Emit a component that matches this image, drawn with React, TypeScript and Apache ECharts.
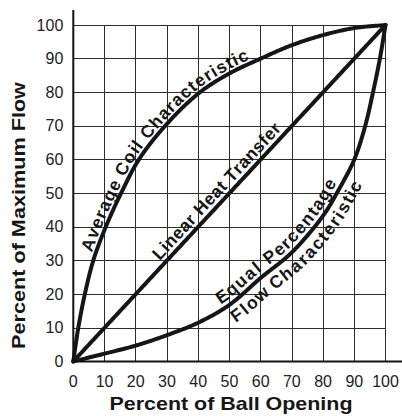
import React, { useEffect, useRef } from "react";
import * as echarts from "echarts";

// ---- data ----
const xTickValues = [0, 10, 20, 30, 40, 50, 60, 70, 80, 90, 100];
const coilX = [0, 1.6, 3.7, 6.4, 10.4, 15.3, 21, 29.4, 40, 50, 60, 70, 80, 90, 100];
const coilY = [0, 10, 20, 30, 40, 50, 60, 70, 79.6, 85.6, 90, 94, 97, 99.1, 100];
const linearX = [0, 100];
const linearY = [0, 100];
const equalX = [0, 10, 20, 30, 40, 50, 60, 70, 80, 85, 90, 93.5, 96, 98.2, 100];
const equalY = [0, 2.3, 4.7, 7.8, 11.5, 16.8, 24.8, 32.4, 43.3, 51, 60, 70, 80, 90, 100];

const xTitle = "Percent of Ball Opening";
const yTitle = "Percent of Maximum Flow";
const coilLabel = "Average Coil Characteristic";
const linearLabel = "Linear Heat Transfer";
const equalLabel = "Equal Percentage";
const flowLabel = "Flow Characteristic";

const pairs = (xs: number[], ys: number[]) => xs.map((x, i) => [x, ys[i]]);

const FONT = "Liberation Sans";
const INK = "#161616";

type P = [number, number];

// centripetal Catmull-Rom through the given pixel points
function densify(pts: P[]): P[] {
  const n = pts.length;
  const out: P[] = [];
  if (n === 2) {
    const N = 200;
    for (let k = 0; k <= N; k++) {
      const t = k / N;
      out.push([pts[0][0] + (pts[1][0] - pts[0][0]) * t, pts[0][1] + (pts[1][1] - pts[0][1]) * t]);
    }
    return out;
  }
  const ext: P[] = [
    [2 * pts[0][0] - pts[1][0], 2 * pts[0][1] - pts[1][1]],
    ...pts,
    [2 * pts[n - 1][0] - pts[n - 2][0], 2 * pts[n - 1][1] - pts[n - 2][1]],
  ];
  const lerp = (a: P, b: P, ta: number, tb: number, t: number): P => {
    const d = tb - ta || 1e-6;
    return [((tb - t) / d) * a[0] + ((t - ta) / d) * b[0], ((tb - t) / d) * a[1] + ((t - ta) / d) * b[1]];
  };
  for (let i = 1; i < ext.length - 2; i++) {
    const p0 = ext[i - 1], p1 = ext[i], p2 = ext[i + 1], p3 = ext[i + 2];
    const t0 = 0;
    const t1 = t0 + Math.pow(Math.hypot(p1[0] - p0[0], p1[1] - p0[1]), 0.5);
    const t2 = t1 + Math.pow(Math.hypot(p2[0] - p1[0], p2[1] - p1[1]), 0.5);
    const t3 = t2 + Math.pow(Math.hypot(p3[0] - p2[0], p3[1] - p2[1]), 0.5);
    const N = 30;
    for (let k = 0; k < N; k++) {
      const t = t1 + ((t2 - t1) * k) / N;
      const A1 = lerp(p0, p1, t0, t1, t);
      const A2 = lerp(p1, p2, t1, t2, t);
      const A3 = lerp(p2, p3, t2, t3, t);
      const B1 = lerp(A1, A2, t0, t2, t);
      const B2 = lerp(A2, A3, t1, t3, t);
      out.push(lerp(B1, B2, t1, t2, t));
    }
  }
  out.push(pts[n - 1]);
  return out;
}

function makePath(pts: P[]) {
  const poly = densify(pts);
  const cum = [0];
  for (let i = 1; i < poly.length; i++) {
    cum.push(cum[i - 1] + Math.hypot(poly[i][0] - poly[i - 1][0], poly[i][1] - poly[i - 1][1]));
  }
  const at = (s: number): P => {
    if (s <= 0) return poly[0];
    if (s >= cum[cum.length - 1]) return poly[poly.length - 1];
    let i = 1;
    while (cum[i] < s) i++;
    const r = (s - cum[i - 1]) / (cum[i] - cum[i - 1] || 1);
    return [poly[i - 1][0] + (poly[i][0] - poly[i - 1][0]) * r, poly[i - 1][1] + (poly[i][1] - poly[i - 1][1]) * r];
  };
  const nearest = (p: number[]) => {
    let best = 0;
    let bd = Infinity;
    for (let i = 0; i < poly.length; i++) {
      const d = Math.hypot(poly[i][0] - p[0], poly[i][1] - p[1]);
      if (d < bd) {
        bd = d;
        best = i;
      }
    }
    return cum[best];
  };
  return { at, nearest };
}

let measureCtx: CanvasRenderingContext2D | null = null;
function charWidth(c: string, size: number) {
  if (!measureCtx) measureCtx = document.createElement("canvas").getContext("2d");
  measureCtx!.font = `bold ${size}px "${FONT}"`;
  return measureCtx!.measureText(c).width;
}

function textAlong(
  path: ReturnType<typeof makePath>,
  text: string,
  startPx: number[],
  offset: number,
  spacing: number,
  size: number
) {
  const chars = Array.from(text);
  const widths = chars.map((c) => charWidth(c, size));
  let s = path.nearest(startPx) - widths[0] / 2;
  const els: any[] = [];
  chars.forEach((c, i) => {
    const w = widths[i];
    const sc = s + w / 2;
    const p = path.at(sc);
    const a = path.at(sc - 4);
    const b = path.at(sc + 4);
    let tx = b[0] - a[0];
    let ty = b[1] - a[1];
    const L = Math.hypot(tx, ty) || 1;
    tx /= L;
    ty /= L;
    const nx = ty;
    const ny = -tx;
    if (c !== " ") {
      els.push({
        type: "text",
        x: p[0] + nx * offset,
        y: p[1] + ny * offset,
        rotation: Math.atan2(-ty, tx),
        z: 20,
        silent: true,
        style: {
          text: c,
          fontSize: size,
          fontWeight: "bold",
          fontFamily: FONT,
          fill: INK,
          align: "center",
          verticalAlign: "middle",
        },
      });
    }
    s += w + spacing;
  });
  return els;
}

const curveSeries = (xs: number[], ys: number[]) => ({
  type: "custom",
  data: pairs(xs, ys),
  encode: { x: 0, y: 1 },
  z: 5,
  silent: true,
  renderItem: (params: any, api: any) => {
    if (params.dataIndex !== 0) return null;
    const pts = xs.map((x, i) => api.coord([x, ys[i]]) as P);
    return {
      type: "polyline",
      shape: { points: densify(pts) },
      style: { stroke: INK, lineWidth: 4, fill: "none", lineJoin: "round", lineCap: "round" },
    };
  },
});

export default function App() {
  const ref = useRef<HTMLDivElement>(null);

  useEffect(() => {
    const chart = echarts.init(ref.current!, null, { renderer: "svg" });
    const axisCommon = {
      type: "value",
      min: 0,
      max: 100,
      interval: 10,
      axisLine: { show: false },
      axisTick: { show: false },
      splitLine: { show: true, lineStyle: { color: "#2c2c2c", width: 1 } },
    };
    chart.setOption({
      animation: false,
      grid: { left: 73.3, right: 16.5, top: 25, bottom: 54.6 },
      xAxis: {
        ...axisCommon,
        axisLabel: {
          fontFamily: FONT,
          fontSize: 16,
          color: "#222",
          margin: 12,
          formatter: (v: number) => (xTickValues.includes(v) ? String(v) : ""),
        },
      },
      yAxis: {
        ...axisCommon,
        axisLabel: { fontFamily: FONT, fontSize: 16, color: "#222", margin: 10 },
      },
      series: [curveSeries(coilX, coilY), curveSeries(linearX, linearY), curveSeries(equalX, equalY)],
    });

    const toPx = (x: number, y: number) => chart.convertToPixel({ gridIndex: 0 }, [x, y]) as number[];
    const toPts = (xs: number[], ys: number[]) => xs.map((x, i) => toPx(x, ys[i]) as P);

    const coilPath = makePath(toPts(coilX, coilY));
    const linPath = makePath(toPts(linearX, linearY));
    const eqPath = makePath(toPts(equalX, equalY));

    const o = toPx(0, 0);
    const size = 17.5;
    const graphic: any[] = [
      { type: "line", z: 10, shape: { x1: o[0], y1: 10, x2: o[0], y2: o[1] + 1 }, style: { stroke: "#111", lineWidth: 2 } },
      { type: "line", z: 10, shape: { x1: o[0] - 1, y1: o[1], x2: 402, y2: o[1] }, style: { stroke: "#111", lineWidth: 2 } },
      {
        type: "text",
        x: 231,
        y: 404,
        scaleX: 1.16,
        style: { text: xTitle, fontSize: 18.5, fontWeight: "bold", fontFamily: FONT, fill: INK, align: "center", verticalAlign: "middle" },
      },
      {
        type: "text",
        x: 18.5,
        y: 215.5,
        rotation: Math.PI / 2,
        scaleX: 1.17,
        style: { text: yTitle, fontSize: 18.5, fontWeight: "bold", fontFamily: FONT, fill: INK, align: "center", verticalAlign: "middle" },
      },
      ...textAlong(coilPath, coilLabel, [88.7, 245], 9.8, 1, size),
      ...textAlong(linPath, linearLabel, [155.5, 250.5], 11, 0.5, size),
      ...textAlong(eqPath, equalLabel, [222, 296], 11, 1.7, size),
      ...textAlong(eqPath, flowLabel, [240, 319], -12.5, 1.1, size),
    ];
    chart.setOption({ graphic });

    return () => chart.dispose();
  }, []);

  return <div ref={ref} style={{ position: "absolute", left: 0, top: 0, width: 402, height: 416 }} />;
}
